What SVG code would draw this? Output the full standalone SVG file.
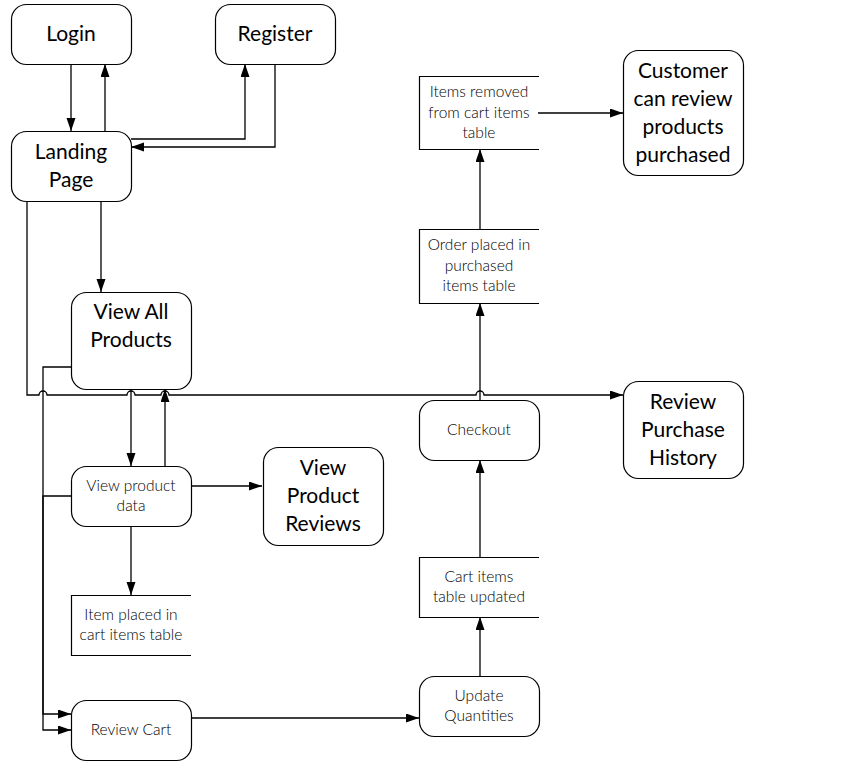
<svg xmlns="http://www.w3.org/2000/svg" width="845" height="766" viewBox="0 0 845 766">
<defs>
<marker id="ah" markerWidth="14" markerHeight="10" refX="13" refY="4.5" orient="auto" markerUnits="userSpaceOnUse">
<path d="M0,0 L13,4.5 L0,9 z" fill="#000"/>
</marker>
<style>
.n{fill:#fff;stroke:#000;stroke-width:1.2}
.s{fill:none;stroke:#000;stroke-width:1.2}
.c{fill:none;stroke:#000;stroke-width:1.3;marker-end:url(#ah)}
.L{font-family:Lato,"Liberation Sans",sans-serif;font-size:21px;font-weight:400;text-anchor:middle;fill:#000}
.S{font-family:Lato,"Liberation Sans",sans-serif;font-size:15.5px;font-weight:300;text-anchor:middle;fill:#000}
</style>
</defs>
<rect width="845" height="766" fill="#fff"/>
<g id="connectors">
<path class="c" d="M71,64 L71,131"/>
<path class="c" d="M105,131 L105,64"/>
<path class="c" d="M131,139 L245,139 L245,64"/>
<path class="c" d="M275,64 L275,147 L131,147"/>
<path class="c" d="M101,201 L101,292"/>
<path class="c" d="M27,201 L27,395 L39,395 A4,4 0 0 1 47,395 L127,395 A4,4 0 0 1 135,395 L161,395 A4,4 0 0 1 169,395 L476,395 A4,4 0 0 1 484,395 L623,395"/>
<path class="c" d="M71,367 L43,367 L43,730 L71,730"/>
<path class="c" d="M71,496 L43,496 L43,714 L71,714"/>
<path class="c" d="M131,389 L131,466"/>
<path class="c" d="M165,466 L165,389"/>
<path class="c" d="M191,486 L262,486"/>
<path class="c" d="M131,527 L131,595"/>
<path class="c" d="M191,718 L419,718"/>
<path class="c" d="M480,676 L480,617"/>
<path class="c" d="M480,557 L480,460"/>
<path class="c" d="M480,400 L480,303"/>
<path class="c" d="M480,229 L480,149"/>
<path class="c" d="M538,113 L623,113"/>
</g>
<g id="login"><rect class="n" x="11.5" y="4.5" width="120" height="60" rx="15"/><text class="L" x="71" y="41">Login</text></g>
<g id="register"><rect class="n" x="215.5" y="4.5" width="120" height="60" rx="15"/><text class="L" x="275" y="41">Register</text></g>
<g id="landing"><rect class="n" x="11.5" y="131.5" width="120" height="70" rx="15"/><text class="L" x="71" y="159">Landing</text><text class="L" x="71" y="187">Page</text></g>
<g id="viewall"><rect class="n" x="71.5" y="292.5" width="120" height="97" rx="15"/><text class="L" x="131" y="319">View All</text><text class="L" x="131" y="347">Products</text></g>
<g id="viewdata"><rect class="n" x="71.5" y="466.5" width="120" height="60" rx="15"/><text class="S" x="131" y="491">View product</text><text class="S" x="131" y="511">data</text></g>
<g id="viewreviews"><rect class="n" x="263.5" y="447.5" width="120" height="98" rx="15"/><text class="L" x="323" y="475">View</text><text class="L" x="323" y="503">Product</text><text class="L" x="323" y="531">Reviews</text></g>
<g id="itemplaced"><path class="s" d="M191,595.5 L71.5,595.5 L71.5,655.5 L191,655.5"/><text class="S" x="131" y="620">Item placed in</text><text class="S" x="131" y="640">cart items table</text></g>
<g id="reviewcart"><rect class="n" x="71.5" y="700.5" width="120" height="60" rx="15"/><text class="S" x="131" y="735">Review Cart</text></g>
<g id="updateqty"><rect class="n" x="419.5" y="676.5" width="120" height="60" rx="15"/><text class="S" x="479" y="701">Update</text><text class="S" x="479" y="721">Quantities</text></g>
<g id="cartupdated"><path class="s" d="M539,557.5 L419.5,557.5 L419.5,617.5 L539,617.5"/><text class="S" x="479" y="582">Cart items</text><text class="S" x="479" y="602">table updated</text></g>
<g id="checkout"><rect class="n" x="419.5" y="400.5" width="120" height="60" rx="15"/><text class="S" x="479" y="435">Checkout</text></g>
<g id="orderplaced"><path class="s" d="M539,229.5 L419.5,229.5 L419.5,303.5 L539,303.5"/><text class="S" x="479" y="250">Order placed in</text><text class="S" x="479" y="271">purchased</text><text class="S" x="479" y="291">items table</text></g>
<g id="itemsremoved"><path class="s" d="M539,76.5 L419.5,76.5 L419.5,149.5 L539,149.5"/><text class="S" x="479" y="97">Items removed</text><text class="S" x="479" y="118">from cart items</text><text class="S" x="479" y="138">table</text></g>
<g id="customer"><rect class="n" x="623.5" y="50.5" width="120" height="125" rx="15"/><text class="L" x="683" y="78">Customer</text><text class="L" x="683" y="106">can review</text><text class="L" x="683" y="134">products</text><text class="L" x="683" y="162">purchased</text></g>
<g id="history"><rect class="n" x="623.5" y="381.5" width="120" height="97" rx="15"/><text class="L" x="683" y="409">Review</text><text class="L" x="683" y="437">Purchase</text><text class="L" x="683" y="465">History</text></g>
</svg>
